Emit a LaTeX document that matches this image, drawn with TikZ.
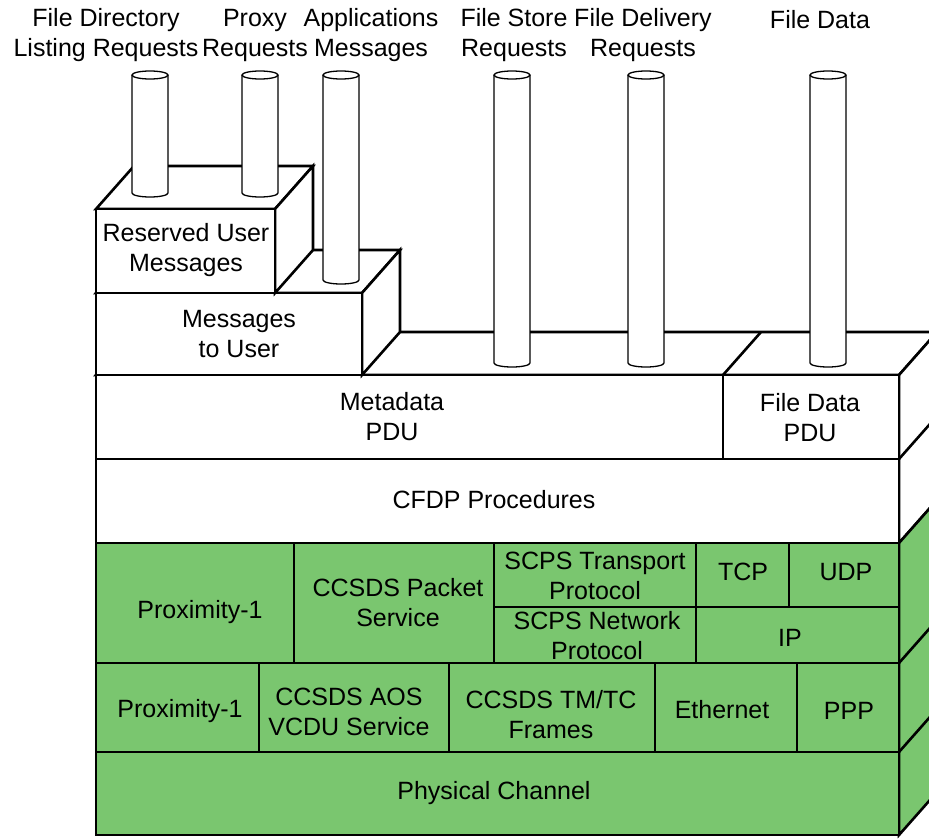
\documentclass[tikz,border=0pt]{standalone}
\usepackage{fontspec}
\setmainfont{Liberation Sans}
\definecolor{layergreen}{RGB}{122,198,111}
\begin{document}
\begin{tikzpicture}[x=1pt,y=-1pt,
  face/.style={draw=black,line width=2.6pt,line join=miter,fill=white},
  gface/.style={face,fill=layergreen},
  edge/.style={draw=black,line width=2.6pt},
  lbl/.style={font=\fontsize{25}{30}\selectfont,align=center,inner sep=0pt},
  cylbody/.style={draw=black,line width=1.3pt,fill=white}]
\useasboundingbox (0,0) rectangle (929,839);

% ---------- main block: top face ----------
\path[face] (96,375) -- (134,332) -- (937,332) -- (899,375) -- cycle;
\draw[edge] (723,375) -- (761,332);
% ---------- main block: right side ----------
\path[face] (899,375) -- (937,332) -- (937,500) -- (899,543) -- cycle;
\path[gface] (899,543) -- (937,500) -- (937,792) -- (899,835) -- cycle;
\draw[edge] (899,459) -- (937,416);
\draw[edge] (899,663) -- (937,620);
\draw[edge] (899,752) -- (937,709);
% ---------- main block: front faces ----------
\path[face] (96,375) rectangle (723,459);
\path[face] (723,375) rectangle (899,459);
\path[face] (96,459) rectangle (899,543);
\path[gface] (96,543) rectangle (294,663);
\path[gface] (294,543) rectangle (494,663);
\path[gface] (494,543) rectangle (696,607);
\path[gface] (494,607) rectangle (696,663);
\path[gface] (696,543) rectangle (789,607);
\path[gface] (789,543) rectangle (899,607);
\path[gface] (696,607) rectangle (899,663);
\path[gface] (96,663) rectangle (259,752);
\path[gface] (259,663) rectangle (449,752);
\path[gface] (449,663) rectangle (655,752);
\path[gface] (655,663) rectangle (797,752);
\path[gface] (797,663) rectangle (899,752);
\path[gface] (96,752) rectangle (899,835);

% ---------- Messages to User block ----------
\path[face] (96,293) -- (134,250) -- (400,250) -- (362,293) -- cycle;
\path[face] (362,293) -- (400,250) -- (400,332) -- (362,375) -- cycle;
\path[face] (96,293) rectangle (362,375);

% ---------- Reserved User Messages block ----------
\path[face] (96,209) -- (134,166) -- (313,166) -- (275,209) -- cycle;
\path[face] (275,209) -- (313,166) -- (313,250) -- (275,293) -- cycle;
\path[face] (96,209) rectangle (275,293);

% ---------- cylinders ----------
\foreach \cx/\cb in {150/193, 260/193, 341/280, 512/363, 646/363, 828/363}{
  \path[fill=white] (\cx-18,75) rectangle (\cx+18,\cb);
  \draw[line width=1.3pt] (\cx-18,75) -- (\cx-18,\cb)
     arc[start angle=180,end angle=0,x radius=18,y radius=4] -- (\cx+18,75);
  \draw[cylbody] (\cx,75) ellipse[x radius=18,y radius=4];
}

% ---------- labels on the stack ----------
\node[lbl] (rum) at (186,250) {Reserved User\\Messages};
\node[lbl] (mtu) at (239,334) {Messages\\to User};
\node[lbl] (meta) at (392,417) {Metadata\\PDU};
\node[lbl] (fdpdu) at (810,418) {File Data\\PDU};
\node[lbl] (cfdp) at (494,500) {CFDP Procedures};
\node[lbl] (prox3) at (200,612) {Proximity-1};
\node[lbl] (pkt) at (398,603) {CCSDS Packet\\Service};
\node[lbl] (scpst) at (595,576) {SCPS Transport\\Protocol};
\node[lbl] (scpsn) at (597,636) {SCPS Network\\Protocol};
\node[lbl] (tcp) at (743,572) {TCP};
\node[lbl] (udp) at (846,572) {UDP};
\node[lbl] (ip) at (790,638) {IP};
\node[lbl] (prox2) at (180,711) {Proximity-1};
\node[lbl] (aos) at (349,712) {CCSDS AOS\\VCDU Service};
\node[lbl] (tmtc) at (551,715) {CCSDS TM/TC\\Frames};
\node[lbl] (eth) at (722,710) {Ethernet};
\node[lbl] (ppp) at (849,711) {PPP};
\node[lbl] (phys) at (494,793) {Physical Channel};

% ---------- labels above the cylinders ----------
\node[lbl] (tdir) at (106,35) {File Directory\\Listing Requests};
\node[lbl] (tproxy) at (255,35) {Proxy\\Requests};
\node[lbl] (tapp) at (371,35) {Applications\\Messages};
\node[lbl] (tstore) at (514,35) {File Store\\Requests};
\node[lbl] (tdel) at (643,35) {File Delivery\\Requests};
\node[lbl] (tdata) at (820,20) {File Data};
\end{tikzpicture}
\end{document}
